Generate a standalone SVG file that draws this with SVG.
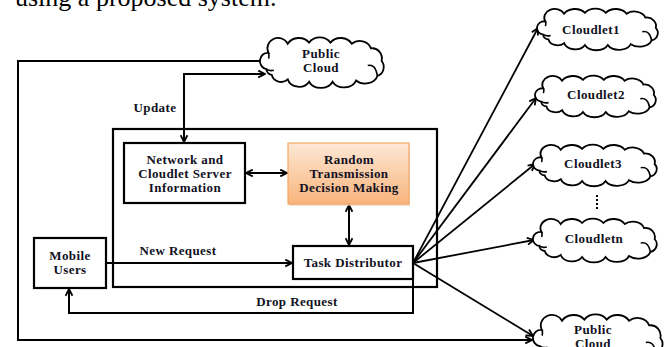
<svg xmlns="http://www.w3.org/2000/svg" width="668" height="347" viewBox="0 0 668 347">
  <defs>
    <style>
      .box { fill: #ffffff; stroke: #000; stroke-width: 2.2; }
      .ln { fill: none; stroke: #000; stroke-width: 2; }
      .fan { fill: none; stroke: #000; stroke-width: 1.8; }
      .lbl { font-family: "Liberation Serif", "Times New Roman", serif; font-weight: bold; font-size: 13px; letter-spacing: 0.4px; fill: #111122; text-anchor: middle; }
      .cloud { fill: #ffffff; stroke: #000; stroke-width: 1.8; }
      .curl { fill: none; stroke: #000; stroke-width: 1.6; }
    </style>
    <linearGradient id="orange" x1="0" y1="0" x2="0" y2="1">
      <stop offset="0" stop-color="#fde8d6"/>
      <stop offset="1" stop-color="#f8b47b"/>
    </linearGradient>
    <marker id="arr" viewBox="0 0 10 10" refX="9" refY="5" markerWidth="9" markerHeight="9" markerUnits="userSpaceOnUse" orient="auto-start-reverse">
      <path d="M1.5,1.2 L9,5 L1.5,8.8" fill="none" stroke="#000" stroke-width="2"/>
    </marker>
    <!-- bumpy cloud outline in a 120 x 40 frame -->
    <g id="cloudShape">
      <path class="cloud" vector-effect="non-scaling-stroke" d="M6,27 A7,7 0 0 1 8,13 A10,9 0 0 1 26,5 A12,10 0 0 1 46,4 A12,10 0 0 1 66,4 A12,10 0 0 1 86,5 A11,9 0 0 1 104,9 A9,9 0 0 1 114,20 A8,8 0 0 1 110,33 A12,9 0 0 1 90,37 A12,9 0 0 1 68,38 A12,9 0 0 1 46,38 A11,9 0 0 1 26,36 A9,8 0 0 1 11,32 A6,5 0 0 1 6,27 Z"/>
      <path class="curl" vector-effect="non-scaling-stroke" d="M6,27 Q9,29 13,28 M8,13 Q9,16 8,18 M101,24 Q108,22 110,33"/>
    </g>
  </defs>

  <rect width="668" height="347" fill="#ffffff"/>

  <!-- running text above the figure -->
  <text x="15" y="6" font-family="Liberation Serif, Times New Roman, serif" font-size="26" fill="#000">using a proposed system.</text>

  <!-- connectors -->
  <g id="connectors">
    <path class="ln" d="M263,61 H18 V340 H532" marker-end="url(#arr)"/>
    <path class="ln" d="M265,74 H184 V142" marker-start="url(#arr)" marker-end="url(#arr)"/>
    <path class="ln" d="M246,173 H287" marker-start="url(#arr)" marker-end="url(#arr)"/>
    <path class="ln" d="M349,205 V245" marker-start="url(#arr)" marker-end="url(#arr)"/>
    <path class="ln" d="M107,263 H292" marker-end="url(#arr)"/>
    <path class="ln" d="M413,279 V313 H69 V289" marker-end="url(#arr)"/>
    <path class="fan" d="M413,263 L538,28" marker-end="url(#arr)"/>
    <path class="fan" d="M413,263 L536,98" marker-end="url(#arr)"/>
    <path class="fan" d="M413,263 L535,164" marker-end="url(#arr)"/>
    <path class="fan" d="M413,263 L534,240" marker-end="url(#arr)"/>
    <path class="fan" d="M413,263 L533,336" marker-end="url(#arr)"/>
  </g>

  <!-- system boundary -->
  <g id="system">
    <rect x="113" y="129" width="324" height="158" fill="none" stroke="#000" stroke-width="2.2"/>
  </g>

  <g id="network-info">
    <rect class="box" x="124" y="143" width="121" height="60"/>
    <text class="lbl" x="185" y="164">Network and</text>
    <text class="lbl" x="185" y="178">Cloudlet Server</text>
    <text class="lbl" x="185" y="192">Information</text>
  </g>

  <g id="decision">
    <rect x="289" y="145" width="121" height="61" fill="#e8c9b0" opacity="0.6"/>
    <rect x="288" y="143" width="121" height="61" fill="url(#orange)" stroke="#f4a766" stroke-width="1.2"/>
    <text class="lbl" x="349" y="164">Random</text>
    <text class="lbl" x="349" y="178">Transmission</text>
    <text class="lbl" x="349" y="192">Decision Making</text>
  </g>

  <g id="task-distributor">
    <rect class="box" x="293" y="246" width="120" height="33"/>
    <text class="lbl" x="353" y="267">Task Distributor</text>
  </g>

  <g id="mobile-users">
    <rect class="box" x="34" y="238" width="72" height="50"/>
    <text class="lbl" x="70" y="260">Mobile</text>
    <text class="lbl" x="70" y="274">Users</text>
  </g>

  <!-- connector labels -->
  <g id="labels">
    <text class="lbl" x="155" y="112">Update</text>
    <text class="lbl" x="178" y="255">New Request</text>
    <text class="lbl" x="297" y="306">Drop Request</text>
  </g>

  <!-- clouds -->
  <g id="public-cloud-top">
    <use href="#cloudShape" transform="translate(260,38) scale(1.067,1.15)"/>
    <text class="lbl" x="321" y="58">Public</text>
    <text class="lbl" x="321" y="72">Cloud</text>
  </g>
  <g id="cloudlet1">
    <use href="#cloudShape" transform="translate(537,9) scale(1.042,0.95)"/>
    <text class="lbl" x="591" y="34">Cloudlet1</text>
  </g>
  <g id="cloudlet2">
    <use href="#cloudShape" transform="translate(535,76) scale(1.042,0.95)"/>
    <text class="lbl" x="596" y="99">Cloudlet2</text>
  </g>
  <g id="cloudlet3">
    <use href="#cloudShape" transform="translate(533,145) scale(1.067,0.95)"/>
    <text class="lbl" x="593" y="168">Cloudlet3</text>
  </g>
  <g id="ellipsis">
    <path d="M597,195 V209" stroke="#000" stroke-width="2" stroke-dasharray="2,2"/>
  </g>
  <g id="cloudletn">
    <use href="#cloudShape" transform="translate(533,219) scale(1.067,1.0)"/>
    <text class="lbl" x="594" y="243">Cloudletn</text>
  </g>
  <g id="public-cloud-bottom">
    <use href="#cloudShape" transform="translate(533,315) scale(1.117,1.15)"/>
    <text class="lbl" x="593" y="334">Public</text>
    <text class="lbl" x="593" y="348">Cloud</text>
  </g>
</svg>
